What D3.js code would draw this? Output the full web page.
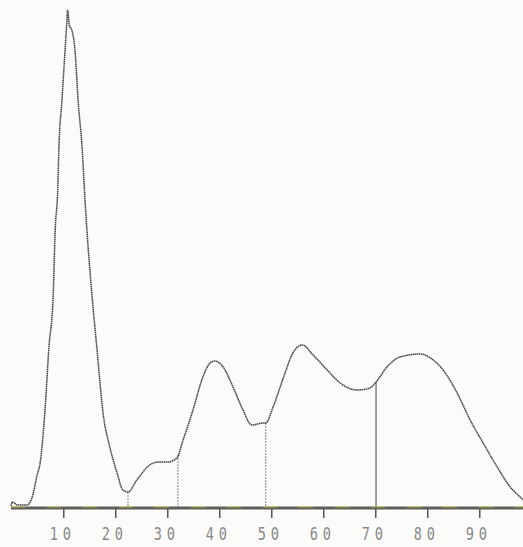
<!DOCTYPE html>
<html>
<head>
<meta charset="utf-8">
<script src="https://cdn.jsdelivr.net/npm/d3@7"></script>
<style>
  body { margin: 0; background: #fbfbfa; }
  svg { display: block; }
</style>
</head>
<body>
<div id="vis"></div>
<script>
const width = 523;
const height = 547;

// curve (x in axis units, y in % of the top peak)
const xs = [0, 0.3, 1.2, 3.1, 4.2, 5.0, 5.6, 6.5, 7.3, 8.1, 8.5, 9.0, 9.2, 9.8, 10.4, 10.7, 10.9, 11.2, 11.7,
  12.3, 12.9, 13.7, 14.2, 14.6, 15.6, 16.5, 17.7, 19.0, 20.4, 21.5, 22.5, 24.2, 26.7, 28.3, 30.2, 31.9,
  33.1, 35.0, 36.9, 38.3, 39.2, 40.8, 42.7, 44.6, 46.3, 48.5, 49.0, 50.4, 52.7, 54.2, 56.0, 58.1, 60.8,
  63.3, 66.5, 69.0, 70.2, 72.3, 74.8, 78.7, 81.2, 83.1, 85.8, 88.3, 90.8, 93.5, 96.0, 97.9, 98.5];
const ys = [0.4, 1.2, 0.6, 0.6, 2.6, 6.5, 9, 19, 32.2, 42.2, 55.6, 64, 71.6, 81.6, 91.6, 96.6, 99.6, 96.6, 95.6,
  91.6, 81.6, 71.6, 62.2, 55.6, 42.2, 32.2, 19, 12.2, 7, 3.6, 3.2, 5.6, 8.6, 9.2, 9.2, 10,
  13.6, 19.6, 26.2, 29, 29.4, 28.2, 24.2, 19.6, 16.6, 17, 17, 20.2, 27, 31, 32.6, 30.6, 27.6,
  25, 23.6, 24, 25.2, 28.2, 30.2, 30.8, 29.6, 27.6, 23, 17.6, 13, 8.2, 4.2, 2.2, 1.6];

// dropped lines under the curve
const markers = [22.5, 32.1, 49.0, 70.2];
const tickVals = [10, 20, 30, 40, 50, 60, 70, 80, 90];

const data = xs.map((x, i) => ({ x: x, y: ys[i] }));

const x = d3.scaleLinear().domain([0, 100]).range([11, 531]);
const y = d3.scaleLinear().domain([0, 100]).range([508, 8]);

const svg = d3.select("#vis")
  .append("svg")
  .attr("width", width)
  .attr("height", height);

svg.append("rect")
  .attr("width", width)
  .attr("height", height)
  .attr("fill", "#fbfbfa");

// y of the curve at a given x
const bisect = d3.bisector(d => d.x).left;
function curveAt(v) {
  const i = Math.max(1, Math.min(data.length - 1, bisect(data, v)));
  const a = data[i - 1], b = data[i];
  const t = (v - a.x) / (b.x - a.x);
  return a.y + (b.y - a.y) * t;
}

svg.selectAll("line.marker")
  .data(markers)
  .join("line")
  .attr("class", "marker")
  .attr("x1", d => x(d))
  .attr("x2", d => x(d))
  .attr("y1", d => y(curveAt(d)))
  .attr("y2", y(0))
  .attr("stroke", (d, i) => i == 3 ? "#555" : "#777")
  .attr("stroke-width", (d, i) => i == 3 ? 1.1 : 0.9)
  .attr("stroke-dasharray", (d, i) => i == 3 ? null : "2 1");

const line = d3.line()
  .x(d => x(d.x))
  .y(d => y(d.y))
  .curve(d3.curveMonotoneX);

svg.append("path")
  .attr("d", line(data))
  .attr("fill", "none")
  .attr("stroke", "#454545")
  .attr("stroke-width", 1.5)
  .attr("stroke-dasharray", "1.6 0.5");

// axis labels
const axis = d3.axisBottom(x)
  .tickValues(tickVals)
  .tickSize(0)
  .tickSizeOuter(0)
  .tickFormat(d3.format("d"));

const gx = svg.append("g")
  .attr("transform", `translate(0,${y(0)})`)
  .call(axis);

gx.select(".domain").remove();
gx.selectAll(".tick line").remove();
gx.selectAll(".tick text")
  .attr("x", -1)
  .attr("y", 20)
  .attr("fill", "#888")
  .attr("font-family", "'DejaVu Sans Mono', monospace")
  .attr("font-size", 17)
  .attr("letter-spacing", 6)
  .attr("transform", "scale(0.8,1)");

// tick marks under the baseline
svg.selectAll("rect.tickmark")
  .data(tickVals)
  .join("rect")
  .attr("class", "tickmark")
  .attr("x", d => x(d))
  .attr("y", y(0))
  .attr("width", 1.5)
  .attr("height", 10)
  .attr("fill", "#555");

svg.append("line")
  .attr("x1", x(0))
  .attr("x2", x(d3.max(xs)))
  .attr("y1", y(0))
  .attr("y2", y(0))
  .attr("stroke", "#5e5e58")
  .attr("stroke-width", 3);

svg.append("line")
  .attr("x1", x(0))
  .attr("x2", x(d3.max(xs)))
  .attr("y1", y(0) - 1)
  .attr("y2", y(0) - 1)
  .attr("stroke", "#d8d040")
  .attr("stroke-width", 1)
  .attr("stroke-dasharray", "14 22")
  .attr("opacity", 0.7);
</script>
</body>
</html>
